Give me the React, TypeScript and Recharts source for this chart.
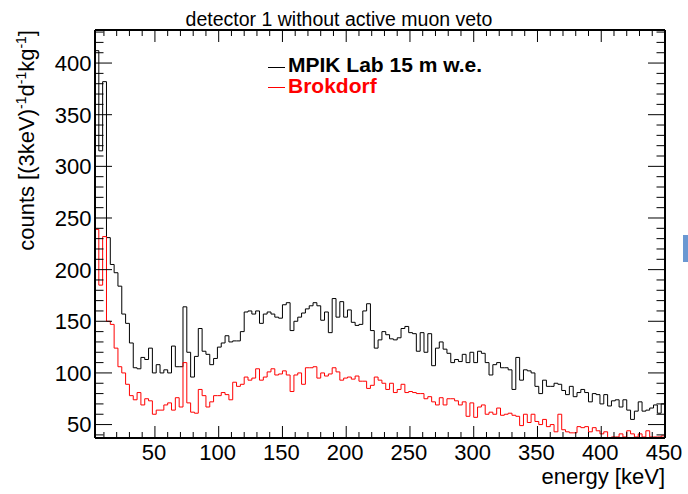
import { ComposedChart, Line, XAxis, YAxis } from 'recharts'

const FONT = '"Liberation Sans", Arial, Helvetica, sans-serif'

// histogram binning: 3 keV bins starting at 3 keV
const BIN_LO = 3
const BIN_W = 3

// counts per (3 keV) per day per kg, detector 1, no muon veto
const mpikLab = [
  412, 315, 382, 231, 205, 197, 184, 157, 148, 129,
  105, 104, 115, 113, 124, 100, 108, 100, 103, 100,
  126, 106, 106, 164, 120, 96, 116, 143, 121, 118,
  108, 114, 125, 129, 136, 130, 131, 131, 140, 159,
  160, 157, 160, 148, 157, 159, 157, 154, 153, 166,
  168, 141, 150, 154, 158, 162, 165, 168, 165, 151,
  159, 139, 172, 154, 169, 154, 161, 149, 146, 147,
  160, 167, 141, 124, 132, 140, 137, 133, 132, 134,
  143, 145, 139, 138, 121, 139, 120, 138, 107, 124,
  130, 123, 119, 110, 113, 111, 118, 110, 120, 110,
  121, 119, 110, 98, 108, 110, 105, 105, 103, 84,
  115, 93, 103, 102, 100, 87, 80, 93, 87, 87,
  90, 89, 83, 79, 87, 77, 81, 84, 81, 72,
  80, 79, 70, 79, 68, 73, 74, 67, 74, 64,
  55, 63, 72, 63, 64, 66, 69, 61, 70,
]

const brokdorf = [
  239, 185, 232, 150, 147, 124, 106, 100, 89, 78,
  74, 81, 69, 75, 73, 60, 64, 64, 69, 71,
  64, 76, 67, 110, 71, 62, 61, 84, 78, 67,
  72, 78, 78, 81, 79, 74, 91, 87, 89, 96,
  93, 95, 104, 93, 96, 101, 104, 98, 99, 102,
  98, 82, 98, 100, 89, 105, 105, 106, 95, 100,
  97, 99, 105, 101, 93, 95, 96, 94, 97, 92,
  92, 85, 88, 96, 93, 90, 84, 90, 81, 84,
  89, 81, 82, 81, 80, 80, 75, 77, 72, 69,
  76, 69, 75, 75, 73, 69, 72, 58, 71, 57,
  67, 69, 60, 62, 60, 66, 59, 60, 61, 59,
  58, 49, 60, 52, 60, 53, 50, 55, 48, 50,
  43, 60, 45, 43, 42, 42, 48, 47, 48, 43,
  47, 44, 41, 43, 36, 38, 38, 41, 38, 44,
  41, 38, 41, 38, 44, 38, 38, 38, 39,
]

const xTicks = [
  10, 20, 30, 40, 50, 60, 70, 80, 90, 100, 110, 120, 130, 140, 150, 160, 170, 180, 190, 200,
  210, 220, 230, 240, 250, 260, 270, 280, 290, 300, 310, 320, 330, 340, 350, 360, 370, 380, 390, 400,
  410, 420, 430, 440, 450,
]
const yTicks = [
  40, 50, 60, 70, 80, 90, 100, 110, 120, 130, 140, 150, 160, 170, 180, 190, 200, 210, 220, 230,
  240, 250, 260, 270, 280, 290, 300, 310, 320, 330, 340, 350, 360, 370, 380, 390, 400, 410, 420, 430,
]

const X_DOMAIN = [3, 450]
const Y_DOMAIN = [37, 432]

// step outline: rise from the frame floor, one point per bin edge, close at the last edge
const histData = [
  { e: BIN_LO, mpik: Y_DOMAIN[0], brok: Y_DOMAIN[0] },
  ...mpikLab.map((v, i) => ({ e: BIN_LO + i * BIN_W, mpik: v, brok: brokdorf[i] })),
  {
    e: BIN_LO + mpikLab.length * BIN_W,
    mpik: mpikLab[mpikLab.length - 1],
    brok: brokdorf[brokdorf.length - 1],
  },
]

const frameLine = { stroke: '#000', strokeWidth: 2 }
const labelStyle = { fontFamily: FONT, fontSize: 22, fill: '#000' }

function BottomTick({ x, y, payload }: any) {
  const major = payload.value % 50 === 0
  return (
    <g>
      <line x1={x} x2={x} y1={y} y2={y - (major ? 12 : 6)} stroke="#000" />
      {major && (
        <text x={x - 1} y={y + 22} textAnchor="middle" style={labelStyle}>
          {payload.value}
        </text>
      )}
    </g>
  )
}

function TopTick({ x, y, payload }: any) {
  const major = payload.value % 50 === 0
  return <line x1={x} x2={x} y1={y} y2={y + (major ? 12 : 6)} stroke="#000" />
}

function LeftTick({ x, y, payload }: any) {
  const major = payload.value % 50 === 0
  return (
    <g>
      <line x1={x} x2={x + (major ? 17 : 8.5)} y1={y} y2={y} stroke="#000" />
      {major && (
        <text x={x - 3.5} y={y} dy="0.36em" textAnchor="end" style={labelStyle}>
          {payload.value}
        </text>
      )}
    </g>
  )
}

function RightTick({ x, y, payload }: any) {
  const major = payload.value % 50 === 0
  return <line x1={x} x2={x - (major ? 17 : 8.5)} y1={y} y2={y} stroke="#000" />
}

export default function App() {
  return (
    <div style={{ position: 'absolute', left: 0, top: 0, width: 688, height: 494, background: '#fff' }}>
      <ComposedChart width={688} height={494} data={histData} margin={{ top: 0, right: 0, bottom: 0, left: 0 }}>
        <XAxis
          xAxisId="bottom" dataKey="e" type="number" domain={X_DOMAIN} allowDataOverflow
          ticks={xTicks} interval={0} height={56} tickSize={0} tickMargin={0}
          tickLine={false} axisLine={frameLine} tick={<BottomTick />}
        />
        <XAxis
          xAxisId="top" orientation="top" dataKey="e" type="number" domain={X_DOMAIN} allowDataOverflow
          ticks={xTicks} interval={0} height={30} tickSize={0} tickMargin={0}
          tickLine={false} axisLine={frameLine} tick={<TopTick />}
        />
        <YAxis
          yAxisId="left" type="number" domain={Y_DOMAIN} allowDataOverflow
          ticks={yTicks} interval={0} width={95} tickSize={0} tickMargin={0}
          tickLine={false} axisLine={frameLine} tick={<LeftTick />}
        />
        <YAxis
          yAxisId="right" orientation="right" type="number" domain={Y_DOMAIN} allowDataOverflow
          ticks={yTicks} interval={0} width={23} tickSize={0} tickMargin={0}
          tickLine={false} axisLine={frameLine} tick={<RightTick />}
        />
        <Line
          xAxisId="bottom" yAxisId="left" dataKey="mpik" type="stepAfter"
          stroke="#000" strokeWidth={1} dot={false} activeDot={false} isAnimationActive={false}
        />
        <Line
          xAxisId="bottom" yAxisId="left" dataKey="brok" type="stepAfter"
          stroke="#ff0000" strokeWidth={1} dot={false} activeDot={false} isAnimationActive={false}
        />
      </ComposedChart>

      <svg width={688} height={494} style={{ position: 'absolute', left: 0, top: 0, pointerEvents: 'none' }}>
        <text x={339} y={26} textAnchor="middle" style={{ fontFamily: FONT, fontSize: 19.5, fill: '#000' }}>
          detector 1 without active muon veto
        </text>

        <text transform="translate(34,30) rotate(-90)" textAnchor="end" style={labelStyle}>
          counts [(3keV)
          <tspan dy={-8} fontSize={14}>-1</tspan>
          <tspan dy={8}>d</tspan>
          <tspan dy={-8} fontSize={14}>-1</tspan>
          <tspan dy={8}>kg</tspan>
          <tspan dy={-8} fontSize={14}>-1</tspan>
          <tspan dy={8}>]</tspan>
        </text>

        <text x={665} y={484} textAnchor="end" style={labelStyle}>energy [keV]</text>

        <line x1={268} x2={285} y1={67.5} y2={67.5} stroke="#000" />
        <text x={288} y={72} style={{ fontFamily: FONT, fontSize: 21, fontWeight: 700, fill: '#000' }}>
          MPIK Lab 15 m w.e.
        </text>
        <line x1={268} x2={285} y1={87.5} y2={87.5} stroke="#ff0000" />
        <text x={288} y={93} style={{ fontFamily: FONT, fontSize: 21, fontWeight: 700, fill: '#ff0000' }}>
          Brokdorf
        </text>

        <rect x={683} y={235} width={5} height={27} fill="#6a98d2" />
      </svg>
    </div>
  )
}
